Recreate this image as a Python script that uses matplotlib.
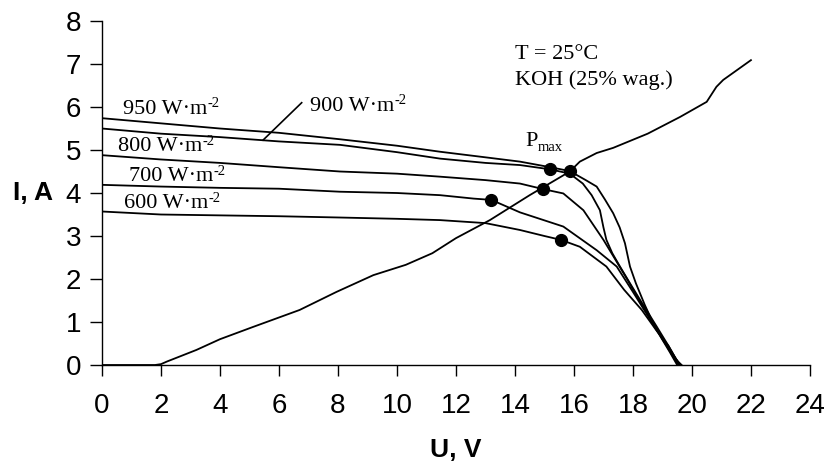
import numpy as np
import matplotlib
matplotlib.use("Agg")
import matplotlib.pyplot as plt

# PV curves, I-U at several irradiances
u_950 = [0, 2, 4, 6, 8.07, 10, 11.46, 13, 14.17, 15.2, 15.86, 16.4, 16.77, 17.05, 17.33, 17.55, 17.73, 17.9, 18.1, 18.4, 18.7, 19.0, 19.3, 19.5, 19.65]
i_950 = [5.74, 5.62, 5.5, 5.4, 5.25, 5.1, 4.96, 4.83, 4.73, 4.6, 4.51, 4.3, 4.15, 3.85, 3.53, 3.2, 2.83, 2.29, 1.9, 1.4, 0.95, 0.6, 0.3, 0.1, 0]

u_900 = [0, 2, 4, 6, 8.07, 10, 11.46, 13, 14.17, 15.2, 15.86, 16.3, 16.6, 16.88, 17.0, 17.1, 17.3, 17.56, 17.9, 18.3, 18.8, 19.2, 19.45, 19.6]
i_900 = [5.5, 5.38, 5.3, 5.2, 5.12, 4.95, 4.8, 4.7, 4.65, 4.55, 4.45, 4.22, 3.95, 3.6, 3.2, 2.91, 2.6, 2.29, 1.9, 1.45, 0.9, 0.45, 0.15, 0]

u_800 = [0, 2, 4, 6, 8.07, 10, 11.46, 13, 14.17, 14.96, 15.64, 16.32, 17.0, 17.45, 17.8, 18.3, 18.7, 19.1, 19.4, 19.55]
i_800 = [4.88, 4.78, 4.7, 4.6, 4.5, 4.45, 4.38, 4.3, 4.22, 4.09, 3.99, 3.6, 2.91, 2.4, 2.0, 1.4, 0.95, 0.5, 0.15, 0]

u_700 = [0, 2, 4, 6, 8.07, 10, 11.46, 12.6, 13.2, 14.17, 15.64, 16.77, 17.45, 18.0, 18.5, 18.9, 19.25, 19.5]
i_700 = [4.19, 4.15, 4.12, 4.1, 4.03, 4.0, 3.95, 3.87, 3.84, 3.55, 3.22, 2.67, 2.29, 1.7, 1.15, 0.7, 0.3, 0]

u_600 = [0, 2, 4, 6, 8.07, 10, 11.46, 13, 14.17, 15.0, 15.56, 16.2, 17.1, 17.7, 18.3, 18.8, 19.2, 19.45, 19.6]
i_600 = [3.57, 3.5, 3.48, 3.46, 3.43, 3.4, 3.37, 3.3, 3.14, 3.0, 2.91, 2.75, 2.29, 1.75, 1.28, 0.8, 0.45, 0.15, 0]

# electrolyser characteristic
u_el = [0, 1.8, 2.0, 2.2, 3.2, 4.0, 5.1, 6.7, 7.95, 9.2, 10.3, 11.2, 12.0, 13.15, 14.5, 15.86, 16.2, 16.77, 17.33, 18.5, 19.6, 20.5, 20.83, 21.06, 22.0]
i_el = [0, 0, 0.02, 0.08, 0.35, 0.6, 0.88, 1.28, 1.7, 2.09, 2.33, 2.6, 2.95, 3.37, 3.95, 4.5, 4.73, 4.93, 5.05, 5.38, 5.77, 6.12, 6.47, 6.63, 7.09]

# maximum power points
u_pmax = [15.86, 15.2, 14.96, 13.2, 15.56]
i_pmax = [4.51, 4.55, 4.09, 3.84, 2.91]

labels = ['950', '900', '800', '700', '600']
label_pos = [(0.72, 5.95), (7.05, 6.02), (0.55, 5.08), (0.92, 4.38), (0.75, 3.75)]


def main():
    fig = plt.figure(figsize=(8.29, 4.67), dpi=100)
    ax = fig.add_axes([0.123, 0.2184, 0.854, 0.7366])

    lw = 1.3
    for u, i in [(u_950, i_950), (u_900, i_900), (u_800, i_800), (u_700, i_700), (u_600, i_600)]:
        ax.plot(u, i, color='black', lw=lw)
    ax.plot(u_el, i_el, color='black', lw=lw)
    ax.plot(u_pmax, i_pmax, 'o', color='black', ms=8.5, zorder=5)

    serif = 'Liberation Serif'
    for lab, (x, y) in zip(labels, label_pos):
        t = ax.text(x, y, lab + ' W\u00b7m', fontsize=16, family=serif,
                    va='center', ha='left')
        ax.annotate('-2', xy=(1.0, 0.78), xycoords=t, fontsize=10.5, family=serif,
                    va='center', ha='left')
    ax.plot([6.77, 5.46], [6.1, 5.23], color='black', lw=1.2)

    ax.text(14.0, 7.22, 'T = 25°C', fontsize=16, family=serif, va='center')
    ax.text(14.0, 6.63, 'KOH (25% wag.)', fontsize=16, family=serif, va='center')
    p = ax.text(14.35, 5.2, 'P', fontsize=16, family=serif, va='center')
    ax.annotate('max', xy=(1.0, 0.2), xycoords=p, fontsize=10.5, family=serif,
                va='center', ha='left')

    ax.set_xlim(0, 24)
    ax.set_ylim(0, 8)
    ax.set_xticks(np.arange(0, 25, 2))
    ax.set_yticks(np.arange(0, 9, 1))
    ax.spines['top'].set_visible(False)
    ax.spines['right'].set_visible(False)
    for s in ['left', 'bottom']:
        ax.spines[s].set_linewidth(1.0)
    ax.tick_params(axis='x', direction='out', length=8, width=1.0, pad=12)
    ax.tick_params(axis='y', direction='out', length=9, width=1.0, pad=6)
    for t in ax.get_xticklabels() + ax.get_yticklabels():
        t.set_family('Liberation Sans')
        t.set_fontsize(20)

    ax.set_xlabel('U, V', fontsize=19, fontweight='bold', family='Liberation Sans', labelpad=14)
    ax.set_ylabel('I, A', fontsize=19, fontweight='bold', family='Liberation Sans',
                  rotation=0, va='center', ha='center')
    ax.yaxis.set_label_coords(-0.097, 0.5)

    fig.savefig('out.png', dpi=100)


if __name__ == '__main__':
    main()
